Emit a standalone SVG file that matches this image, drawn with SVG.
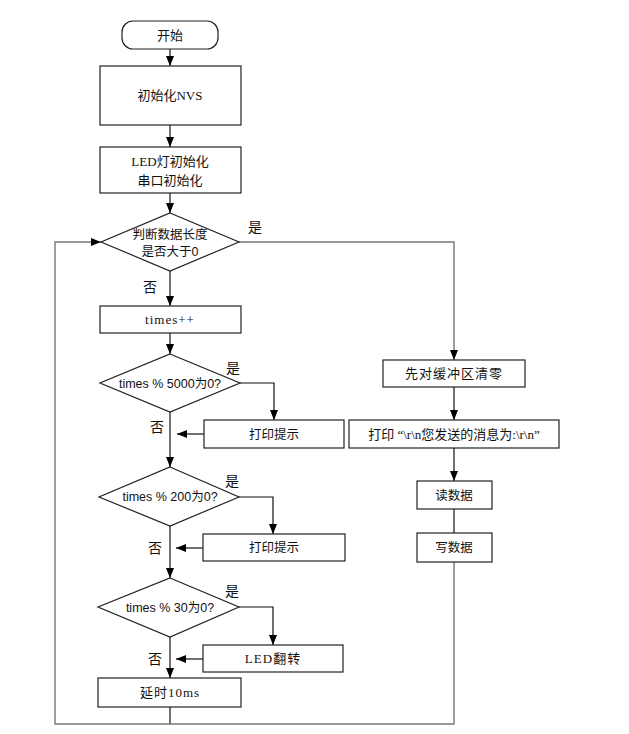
<svg xmlns="http://www.w3.org/2000/svg" width="629" height="734" viewBox="0 0 629 734">
<defs>
<marker id="ah" markerWidth="10" markerHeight="8" refX="10" refY="4" orient="auto" markerUnits="userSpaceOnUse">
<path d="M0,0 L10,4 L0,8 Z" fill="#000"/>
</marker>
<style>
.n{fill:#fff;stroke:#222;stroke-width:1.2}
.c{fill:none;stroke:#111;stroke-width:1.2}
.g{fill:none;stroke:#777;stroke-width:1.4}
.ts{font-family:"Liberation Serif","Noto Sans CJK SC",serif;font-size:13px;fill:#111;text-anchor:middle}
.tn{font-family:"Liberation Sans","Noto Sans CJK SC",sans-serif;font-size:12.5px;fill:#111;text-anchor:middle}
.lb{font-family:"Noto Sans CJK SC",sans-serif;font-size:14px;fill:#111;text-anchor:middle}
.sp{letter-spacing:1px}
</style>
</defs>
<rect width="629" height="734" fill="#fff"/>
<g id="connectors">
<path class="c" d="M170,49 V66" marker-end="url(#ah)"/>
<path class="c" d="M170,125 V147" marker-end="url(#ah)"/>
<path class="c" d="M170,193 V213" marker-end="url(#ah)"/>
<path class="c" d="M170,271 V306" marker-end="url(#ah)"/>
<path class="c" d="M170,333 V354" marker-end="url(#ah)"/>
<path class="c" d="M170,412 V467" marker-end="url(#ah)"/>
<path class="c" d="M240,383 H274 V420" marker-end="url(#ah)"/>
<path class="c" d="M204,434 H177" marker-end="url(#ah)"/>
<path class="c" d="M170,526 V578" marker-end="url(#ah)"/>
<path class="c" d="M239,497 H273 V534" marker-end="url(#ah)"/>
<path class="c" d="M203,548 H176" marker-end="url(#ah)"/>
<path class="c" d="M170,637 V678" marker-end="url(#ah)"/>
<path class="c" d="M239,607 H273 V645" marker-end="url(#ah)"/>
<path class="c" d="M203,659 H176" marker-end="url(#ah)"/>
<path class="c" d="M170,707 V724"/>
<path class="g" d="M454,562 V724 H55 V242 H101" marker-end="url(#ah)"/>
<path class="g" d="M239,242 H454 V360" marker-end="url(#ah)"/>
<path class="c" d="M454,387 V420" marker-end="url(#ah)"/>
<path class="c" d="M454,448 V481" marker-end="url(#ah)"/>
<path class="c" d="M454,509 V533"/>
<text class="lb" x="255" y="232">是</text>
<text class="lb" x="150" y="292">否</text>
<text class="lb" x="233" y="373">是</text>
<text class="lb" x="157" y="432">否</text>
<text class="lb" x="232" y="486">是</text>
<text class="lb" x="155" y="553">否</text>
<text class="lb" x="232" y="596">是</text>
<text class="lb" x="155" y="664">否</text>
</g>
<g id="start"><rect class="n" x="122" y="21" width="96" height="28" rx="11"/><text class="ts" x="170" y="40">开始</text></g>
<g id="initNVS"><rect class="n" x="100" y="66" width="141" height="59"/><text class="ts" x="170" y="100">初始化NVS</text></g>
<g id="initLED"><rect class="n" x="100" y="147" width="141" height="46"/><text class="ts" x="170" y="166">LED灯初始化</text><text class="ts" x="170" y="185">串口初始化</text></g>
<g id="judgeLen"><polygon class="n" points="170,213 239,242 170,271 101,242"/><text class="tn" x="170" y="239">判断数据长度</text><text class="tn" x="170" y="256">是否大于0</text></g>
<g id="timesInc"><rect class="n" x="100" y="306" width="141" height="27"/><text class="ts sp" x="170" y="324">times++</text></g>
<g id="mod5000"><polygon class="n" points="170,354 240,383 170,412 100,383"/><text class="tn" x="170" y="388">times % 5000为0?</text></g>
<g id="print1"><rect class="n" x="204" y="420" width="140" height="28"/><text class="tn" x="274" y="439">打印提示</text></g>
<g id="mod200"><polygon class="n" points="170,467 239,497 170,526 99,497"/><text class="tn" x="170" y="501">times % 200为0?</text></g>
<g id="print2"><rect class="n" x="203" y="534" width="142" height="27"/><text class="tn" x="274" y="552">打印提示</text></g>
<g id="mod30"><polygon class="n" points="170,578 239,607 170,637 98,607"/><text class="tn" x="170" y="612">times % 30为0?</text></g>
<g id="ledToggle"><rect class="n" x="203" y="645" width="140" height="27"/><text class="ts sp" x="273" y="663">LED翻转</text></g>
<g id="delay"><rect class="n" x="98" y="678" width="143" height="29"/><text class="ts sp" x="170" y="697">延时10ms</text></g>
<g id="clearBuf"><rect class="n" x="383" y="360" width="142" height="27"/><text class="ts sp" x="454" y="378">先对缓冲区清零</text></g>
<g id="printMsg"><rect class="n" x="349" y="420" width="210" height="28"/><text class="ts" x="454" y="439">打印 “\r\n您发送的消息为:\r\n”</text></g>
<g id="readData"><rect class="n" x="417" y="481" width="75" height="28"/><text class="tn" x="454" y="500">读数据</text></g>
<g id="writeData"><rect class="n" x="417" y="533" width="75" height="29"/><text class="tn" x="454" y="552">写数据</text></g>
</svg>
